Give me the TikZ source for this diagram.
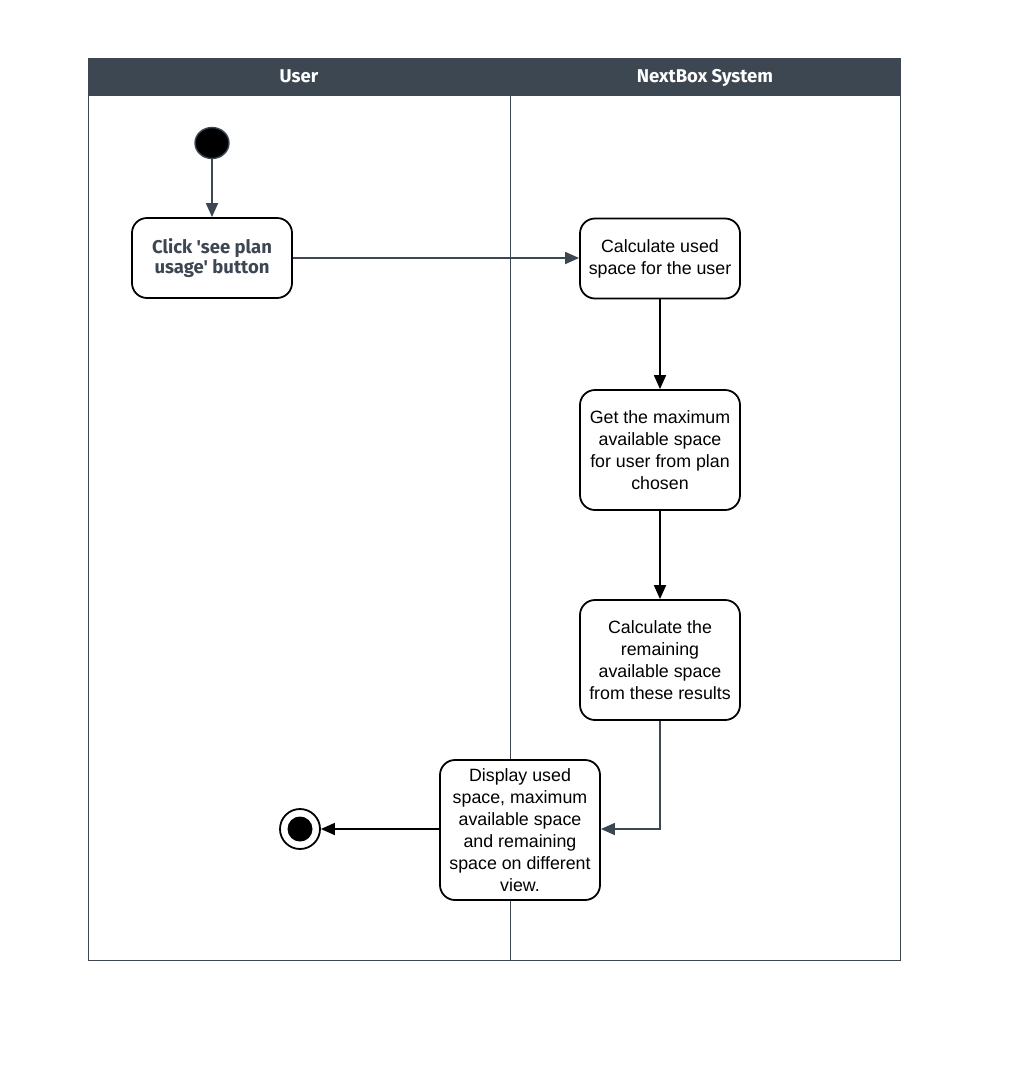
\documentclass[tikz,border=0pt]{standalone}
\usepackage{fontspec}
\setmainfont{Liberation Sans}
\newfontfamily\headfont{Fira Sans}
\usetikzlibrary{arrows.meta,shapes.geometric}
\definecolor{hdr}{HTML}{3D4752}
\tikzset{
  act/.style={draw=black, line width=1.8pt, rounded corners=15pt, fill=white,
    minimum width=160pt, align=center, font=\fontsize{17.8}{22}\selectfont, inner sep=2pt},
  flow/.style={line width=1.8pt, -{Triangle[length=14pt,width=12pt]}},
  gflow/.style={draw=hdr, line width=1.8pt, -{Triangle[length=14pt,width=12pt]}},
  lane/.style={draw=hdr, line width=0.8pt},
  head/.style={text=white, anchor=base, font=\headfont\bfseries\fontsize{18.5}{20}\selectfont},
}
\begin{document}
\begin{tikzpicture}[x=1pt,y=-1pt]
\useasboundingbox (0,0) rectangle (1032,1080);
% swimlanes
\draw[lane] (88,58) rectangle (900,960);
\fill[hdr] (88,58) rectangle (900,96);
\draw[lane] (510,96) -- (510,960);
\node[head] (hu) at (299,82) {User};
\node[head] (hn) at (705,82) {NextBox System};
% nodes
\node[draw=hdr, fill=black, line width=1.4pt, ellipse, minimum width=34pt, minimum height=31pt, inner sep=0pt] (start) at (212,143) {};
\node[act, minimum height=80pt, text=hdr, font=\headfont\bfseries\fontsize{18.5}{20}\selectfont] (b1) at (212,258) {Click 'see plan\\usage' button};
\node[act, minimum height=80pt] (b2) at (660,258.5) {Calculate used\\space for the user};
\node[act, minimum height=120pt] (b3) at (660,450) {Get the maximum\\available space\\for user from plan\\chosen};
\node[act, minimum height=120pt] (b4) at (660,660) {Calculate the\\remaining\\available space\\from these results};
\node[act, minimum height=140pt] (b5) at (520,830) {Display used\\space, maximum\\available space\\and remaining\\space on different\\view.};
\node[circle, draw=black, line width=1.8pt, fill=white, minimum size=40pt, inner sep=0pt] (end) at (300,829) {};
\node[circle, fill=black, minimum size=25pt, inner sep=0pt] (endin) at (end) {};
% connectors
\draw[gflow] (start) -- (b1);
\draw[gflow] (b1.east) -- (b2.west |- b1.east);
\draw[flow] (b2) -- (b3);
\draw[flow] (b3) -- (b4);
\draw[gflow] (b4.south) |- (b5.east |- end);
\draw[flow] (b5.west |- end) -- (end);
\end{tikzpicture}
\end{document}
